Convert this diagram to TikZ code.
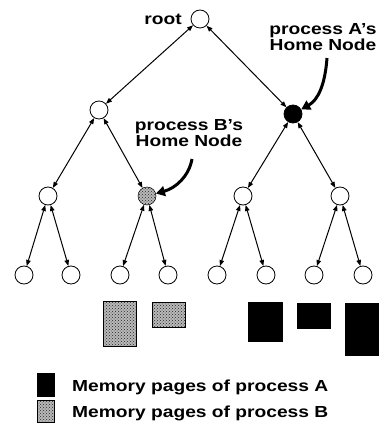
\documentclass[tikz,border=0pt]{standalone}
\usepackage{fontspec}
\newfontfamily\lab{Liberation Sans}[FakeStretch=1.2]
\usetikzlibrary{arrows.meta,patterns}
\begin{document}
\begin{tikzpicture}[x=1pt,y=-1pt,
  tn/.style={circle,draw,line width=0.8pt,minimum size=18pt,inner sep=0},
  link/.style={line width=1pt,{Triangle[length=6pt,width=4.5pt]}-{Triangle[length=6pt,width=4.5pt]}},
  home/.style={line width=3pt,-{Triangle[length=9pt,width=10pt]}},
  lbl/.style={font=\lab\bfseries\fontsize{16}{13}\selectfont,inner sep=0,align=center},
  pageA/.style={fill=black,draw=black},
  pageB/.style={draw=black,line width=0.5pt,preaction={fill=gray!55},pattern=crosshatch dots,pattern color=black!85},
]
\useasboundingbox (0,0) rectangle (380,427);
% tree nodes
\node[tn] (r) at (200,19) {};
\node[tn] (b) at (99,110) {};
\node[tn,fill=black] (a) at (293,114) {};
\node[tn] (l1) at (48,196) {};
\node[tn,pageB] (l2) at (147,196) {};
\node[tn] (l3) at (243,196) {};
\node[tn] (l4) at (340,196) {};
\foreach \i/\x in {1/24,2/71,3/120,4/168,5/217,6/266,7/314,8/363}
  \node[tn] (m\i) at (\x,275) {};
% links
\draw[link] (r) -- (b);
\draw[link] (r) -- (a);
\draw[link] (b) -- (l1);
\draw[link] (b) -- (l2);
\draw[link] (a) -- (l3);
\draw[link] (a) -- (l4);
\draw[link] (l1) -- (m1);
\draw[link] (l1) -- (m2);
\draw[link] (l2) -- (m3);
\draw[link] (l2) -- (m4);
\draw[link] (l3) -- (m5);
\draw[link] (l3) -- (m6);
\draw[link] (l4) -- (m7);
\draw[link] (l4) -- (m8);
% labels
\node[lbl,anchor=base east] (rootlbl) at (182,25) {root};
\node[lbl,anchor=north] (alab) at (323,23) {process A’s\\Home Node};
\node[lbl,anchor=north] (blab) at (189,119) {process B’s\\Home Node};
\coordinate (aS) at (327,58);
\coordinate (bS) at (192,159);
\draw[home] (aS) .. controls (325,85) and (318,100) .. (a);
\draw[home] (bS) .. controls (189,176) and (176,188) .. (l2);
% memory pages
\draw[pageB] (103,301) rectangle (136,346);
\draw[pageB] (152,302) rectangle (185,327);
\draw[pageA] (248,302) rectangle (282,341);
\draw[pageA] (297,303) rectangle (330,328);
\draw[pageA] (345,303) rectangle (378,355);
% legend
\draw[pageA] (37,373) rectangle (54,396);
\draw[pageB] (37,400) rectangle (54,422);
\node[lbl,anchor=base west] (la) at (72,391) {Memory pages of process A};
\node[lbl,anchor=base west] (lb) at (72,417) {Memory pages of process B};
\end{tikzpicture}
\end{document}
